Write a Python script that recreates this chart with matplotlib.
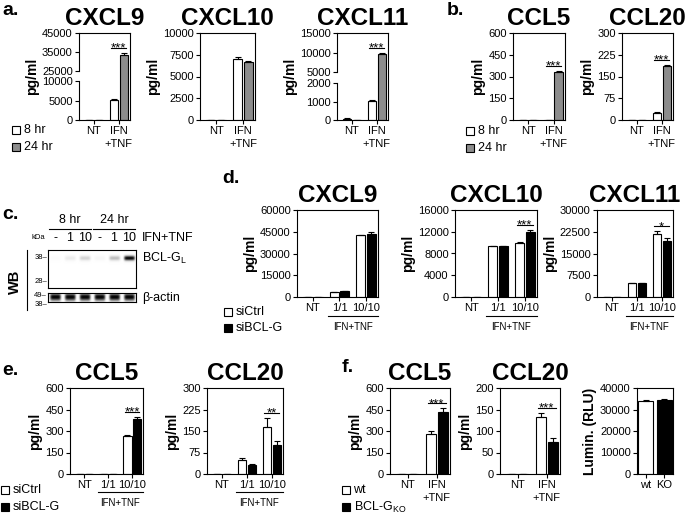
import numpy as np
import matplotlib
matplotlib.use('Agg')
import matplotlib.pyplot as plt
from matplotlib.patches import Rectangle
from matplotlib.lines import Line2D
from matplotlib.ticker import NullLocator
from matplotlib.transforms import offset_copy

plt.rcParams['font.family'] = ['Liberation Sans', 'DejaVu Sans']
plt.rcParams['mathtext.fontset'] = 'custom'
plt.rcParams['mathtext.rm'] = 'Liberation Sans'
plt.rcParams['mathtext.bf'] = 'Liberation Sans:bold'
plt.rcParams['axes.linewidth'] = 0.8

W, H = 685, 515
GREY = '#8c8c8c'

# ---------------- data ----------------
groups_2 = ['NT', 'IFN\n+TNF']
groups_3 = ['NT', '1/1', '10/10']

# a. 8 hr / 24 hr
a9_8, a9_8e = [0, 5200], [0, 120]
a9_24, a9_24e = [0, 33500], [0, 1000]
a10_8, a10_8e = [0, 7000], [0, 250]
a10_24, a10_24e = [0, 6700], [0, 120]
a11_8, a11_8e = [60, 1030], [30, 60]
a11_24, a11_24e = [0, 9600], [0, 200]
a9_ticks = [0, 5000, 10000, 25000, 35000, 45000]
a10_ticks = [0, 2500, 5000, 7500, 10000]
a11_ticks = [0, 1000, 2000, 5000, 10000, 15000]

# b. 8 hr / 24 hr
b5_8, b5_8e = [3, 0], [0, 0]
b5_24, b5_24e = [0, 330], [0, 5]
b20_8, b20_8e = [0, 25], [0, 3]
b20_24, b20_24e = [0, 185], [0, 6]
b5_ticks = [0, 150, 300, 450, 600]
b20_ticks = [0, 75, 150, 225, 300]

# c. western blot band intensities (0..1)
lane_conc = ['-', '1', '10', '-', '1', '10']
bcl_levels = [0.03, 0.15, 0.28, 0.07, 0.38, 1.0]
actin_levels = [1.0, 1.0, 1.0, 1.0, 1.0, 1.0]

# d. siCtrl / siBCL-G
d9_c, d9_ce = [0, 3600, 42500], [0, 150, 600]
d9_k, d9_ke = [0, 4000, 43500], [0, 150, 1600]
d10_c, d10_ce = [0, 9300, 9900], [0, 120, 200]
d10_k, d10_ke = [0, 9350, 12000], [0, 100, 250]
d11_c, d11_ce = [0, 4700, 21700], [0, 200, 900]
d11_k, d11_ke = [0, 4800, 19200], [0, 150, 1300]
d9_ticks = [0, 15000, 30000, 45000, 60000]
d10_ticks = [0, 4000, 8000, 12000, 16000]
d11_ticks = [0, 7500, 15000, 22500, 30000]

# e. siCtrl / siBCL-G
e5_c, e5_ce = [0, 0, 265], [0, 0, 6]
e5_k, e5_ke = [0, 0, 385], [0, 0, 10]
e20_c, e20_ce = [0, 48, 165], [0, 8, 30]
e20_k, e20_ke = [0, 30, 100], [0, 5, 15]
e5_ticks = [0, 150, 300, 450, 600]
e20_ticks = [0, 75, 150, 225, 300]

# f. wt / BCL-G KO
f5_w, f5_we = [0, 280], [0, 18]
f5_k, f5_ke = [0, 435], [0, 22]
f20_w, f20_we = [1, 132], [0, 10]
f20_k, f20_ke = [1, 74], [0, 10]
lumin_labels = ['wt', 'KO']
lumin, lumin_e = [33800, 34200], [800, 900]
f5_ticks = [0, 150, 300, 450, 600]
f20_ticks = [0, 50, 100, 150, 200]
lumin_ticks = [0, 10000, 20000, 30000, 40000]

fig = plt.figure(figsize=(W / 100, H / 100), dpi=100)


def box(l, t, r, b):
    return fig.add_axes([l / W, 1 - b / H, (r - l) / W, (b - t) / H])


def ftext(x, y, s, **kw):
    return fig.text(x / W, 1 - y / H, s, **kw)


def broken_scale(lo, hi, top, f_lo, f_gap):
    yp = [0.0, lo, hi, top]
    fp = [0.0, f_lo, f_lo + f_gap, 1.0]
    s0 = f_lo / lo
    s1 = (1 - f_lo - f_gap) / (top - hi)

    def fwd(y):
        y = np.asarray(y, dtype=float)
        out = np.interp(y, yp, fp)
        out = np.where(y < 0, y * s0, out)
        return np.where(y > top, 1 + (y - top) * s1, out)

    def inv(f):
        f = np.asarray(f, dtype=float)
        out = np.interp(f, fp, yp)
        out = np.where(f < 0, f / s0, out)
        return np.where(f > 1, top + (f - 1) / s1, out)
    return fwd, inv


def bar_chart(rect, labels, series, ticks, title=None, title_x=None, ylabel='pg/ml',
              width=0.34, step=0.4, xlim=None, brk=None, sig=(), bracket=False):
    l, t, r, b = rect
    ax = box(l, t, r, b)
    x = np.arange(len(labels))
    n = len(series)
    tops = np.zeros(len(labels))
    for k, (vals, errs, color) in enumerate(series):
        pos = x + (k - (n - 1) / 2) * step
        vals = np.asarray(vals, float)
        errs = np.asarray(errs, float)
        ax.bar(pos, vals, width, color=color, edgecolor='black', linewidth=0.8, zorder=2)
        ax.errorbar(pos, vals, yerr=[np.zeros_like(vals), errs], fmt='none', ecolor='black',
                    elinewidth=0.8, capsize=2, capthick=0.8, zorder=3)
        tops = np.maximum(tops, vals + errs)
    if brk is not None:
        lo, hi, f_lo, f_gap = brk
        ax.set_yscale('function', functions=broken_scale(lo, hi, ticks[-1], f_lo, f_gap))
        ax.spines['left'].set_visible(False)
        tr = ax.get_yaxis_transform()
        ax.plot([0, 0], [0, lo], transform=tr, color='black', lw=0.8, clip_on=False)
        ax.plot([0, 0], [hi, ticks[-1]], transform=tr, color='black', lw=0.8, clip_on=False)
    ax.set_ylim(0, ticks[-1])
    ax.set_yticks(ticks, [str(v) for v in ticks])
    ax.yaxis.set_minor_locator(NullLocator())
    ax.set_xticks(x, labels)
    ax.set_xlim(xlim if xlim else (-0.6, len(labels) - 0.55))
    ax.tick_params(length=3, width=0.8, labelsize=8, pad=1.5)
    for lab in ax.get_xticklabels():
        lab.set_linespacing(1.3)
    ax.set_ylabel(ylabel, fontsize=10, fontweight='bold', labelpad=2)
    if title:
        ftext(title_x if title_x else (l + r) / 2, t - 8, title, ha='center', va='baseline',
              fontsize=17.5, fontweight='bold')
    for g, stars in sig:
        tr_line = offset_copy(ax.transData, fig=fig, y=5, units='dots')
        ax.plot([g - 0.3, g + 0.3], [tops[g], tops[g]], transform=tr_line, color='black',
                lw=0.8, clip_on=False)
        tr_txt = offset_copy(ax.transData, fig=fig, y=1.5, units='dots')
        ax.text(g, tops[g], stars, transform=tr_txt, ha='center', va='baseline', fontsize=9.5)
    if bracket:
        xt = ax.get_xaxis_transform()
        ax.plot([0.55, len(labels) - 0.55], [-0.215, -0.215], transform=xt, color='black',
                lw=0.8, clip_on=False)
        ax.text(len(labels) / 2, -0.34, 'IFN+TNF', transform=xt, ha='center', va='center',
                fontsize=7)
    return ax


def legend_item(x, y, color, label):
    fig.add_artist(Rectangle((x / W, 1 - (y + 4) / H), 8 / W, 8 / H, transform=fig.transFigure,
                             facecolor=color, edgecolor='black', linewidth=0.8))
    ftext(x + 11.5, y, label, va='center', fontsize=9)


def panel_label(x, y, s):
    ftext(x, y, s, fontsize=14, fontweight='bold', va='baseline')


# ---- a ----
panel_label(2, 15, 'a.')
bar_chart((79, 33, 130, 120), groups_2, [(a9_8, a9_8e, 'white'), (a9_24, a9_24e, GREY)],
          a9_ticks, 'CXCL9', brk=(10000, 25000, 0.448, 0.115), sig=[(1, '***')])
bar_chart((200, 33, 255, 120), groups_2, [(a10_8, a10_8e, 'white'), (a10_24, a10_24e, GREY)],
          a10_ticks, 'CXCL10')
bar_chart((337, 33, 388, 120), groups_2, [(a11_8, a11_8e, 'white'), (a11_24, a11_24e, GREY)],
          a11_ticks, 'CXCL11', brk=(2000, 5000, 0.425, 0.126), sig=[(1, '***')])
legend_item(12, 130, 'white', '8 hr')
legend_item(12, 147, GREY, '24 hr')

# ---- b ----
panel_label(447, 15, 'b.')
bar_chart((513, 33, 565, 120), groups_2, [(b5_8, b5_8e, 'white'), (b5_24, b5_24e, GREY)],
          b5_ticks, 'CCL5', sig=[(1, '***')])
bar_chart((622, 33, 673, 120), groups_2, [(b20_8, b20_8e, 'white'), (b20_24, b20_24e, GREY)],
          b20_ticks, 'CCL20', sig=[(1, '***')])
legend_item(466, 131, 'white', '8 hr')
legend_item(466, 148, GREY, '24 hr')

# ---- c (western blot) ----
panel_label(2, 219, 'c.')


def blot(rect, levels, yc, hw):
    ax = box(*rect)
    xs = np.linspace(0.5, 6.5, 400)
    ys = np.linspace(0, 1, 80)
    X, Y = np.meshgrid(xs, ys)
    img = np.zeros_like(X)
    for lane, lev in enumerate(levels, start=1):
        img += lev * np.exp(-((X - lane) / 0.38) ** 6) * np.exp(-((Y - yc) / hw) ** 2)
    ax.imshow(np.clip(img, 0, 1), extent=(0.5, 6.5, 0, 1), origin='lower', cmap='Greys',
              vmin=0, vmax=1, aspect='auto', interpolation='bilinear')
    ax.set_xlim(0.5, 6.5)
    ax.set_ylim(0, 1)
    ax.set_xticks([])
    ax.set_yticks([])
    return ax


ax_bcl = blot((48, 250, 136, 288), bcl_levels, 0.79, 0.07)
ax_act = blot((48, 293, 136, 302), actin_levels, 0.5, 0.42)
xt = ax_bcl.get_xaxis_transform()
for lane, lab in enumerate(lane_conc, start=1):
    ax_bcl.text(lane, 1.32, lab, transform=xt, ha='center', va='center', fontsize=9)
ax_bcl.text(-0.11, 1.32, 'kDa', transform=ax_bcl.transAxes, ha='center', va='center', fontsize=5.5)
ax_bcl.plot([0.6, 3.4], [1.55, 1.55], transform=xt, color='black', lw=0.8, clip_on=False)
ax_bcl.plot([3.6, 6.45], [1.55, 1.55], transform=xt, color='black', lw=0.8, clip_on=False)
ax_bcl.text(2.0, 1.8, '8 hr', transform=xt, ha='center', va='center', fontsize=9)
ax_bcl.text(5.0, 1.8, '24 hr', transform=xt, ha='center', va='center', fontsize=9)
ax_bcl.text(1.07, 1.32, 'IFN+TNF', transform=ax_bcl.transAxes, ha='left', va='center', fontsize=9)
ax_bcl.text(1.07, 0.79, 'BCL-G$_\\mathrm{L}$', transform=ax_bcl.transAxes, ha='left',
            va='center', fontsize=9)
ax_act.text(1.07, 0.5, '\u03b2-actin', transform=ax_act.transAxes, ha='left', va='center',
            fontsize=9)
for ax_, frac, mw in [(ax_bcl, 0.79, '38'), (ax_bcl, 0.16, '28'), (ax_act, 0.7, '49'),
                      (ax_act, -0.3, '38')]:
    ax_.text(-0.01, frac, mw + '\u2013', transform=ax_.transAxes, ha='right', va='center',
             fontsize=5.5)
fig.add_artist(Line2D([27 / W, 27 / W], [1 - 250 / H, 1 - 310 / H], transform=fig.transFigure,
                      color='black', lw=0.8))
ftext(15, 282, 'WB', rotation=90, ha='center', va='center', fontsize=10.5, fontweight='bold')

# ---- d ----
panel_label(222, 183, 'd.')
bar_chart((297, 210, 378, 297), groups_3, [(d9_c, d9_ce, 'white'), (d9_k, d9_ke, 'black')],
          d9_ticks, 'CXCL9', bracket=True)
bar_chart((455, 210, 537, 297), groups_3, [(d10_c, d10_ce, 'white'), (d10_k, d10_ke, 'black')],
          d10_ticks, 'CXCL10', sig=[(2, '***')], bracket=True)
bar_chart((597, 210, 673, 297), groups_3, [(d11_c, d11_ce, 'white'), (d11_k, d11_ke, 'black')],
          d11_ticks, 'CXCL11', sig=[(2, '*')], bracket=True)
legend_item(224, 312, 'white', 'siCtrl')
legend_item(224, 328, 'black', 'siBCL-G')

# ---- e ----
panel_label(2, 375, 'e.')
bar_chart((70, 388, 143, 474), groups_3, [(e5_c, e5_ce, 'white'), (e5_k, e5_ke, 'black')],
          e5_ticks, 'CCL5', sig=[(2, '***')], bracket=True)
bar_chart((207, 388, 283, 474), groups_3, [(e20_c, e20_ce, 'white'), (e20_k, e20_ke, 'black')],
          e20_ticks, 'CCL20', sig=[(2, '**')], bracket=True)
legend_item(1, 490, 'white', 'siCtrl')
legend_item(1, 507, 'black', 'siBCL-G')

# ---- f ----
panel_label(342, 372, 'f.')
bar_chart((390, 388, 450, 474), groups_2, [(f5_w, f5_we, 'white'), (f5_k, f5_ke, 'black')],
          f5_ticks, 'CCL5', sig=[(1, '***')])
bar_chart((500, 388, 560, 474), groups_2, [(f20_w, f20_we, 'white'), (f20_k, f20_ke, 'black')],
          f20_ticks, 'CCL20', sig=[(1, '***')])
bar_chart((637, 388, 673, 474), lumin_labels, [(lumin, lumin_e, ['white', 'black'])],
          lumin_ticks, ylabel='Lumin. (RLU)', width=0.8, step=0, xlim=(-0.45, 1.45))
legend_item(342, 490, 'white', 'wt')
legend_item(342, 507, 'black', 'BCL-G$_\\mathrm{KO}$')

fig.savefig('out.png', dpi=100)
